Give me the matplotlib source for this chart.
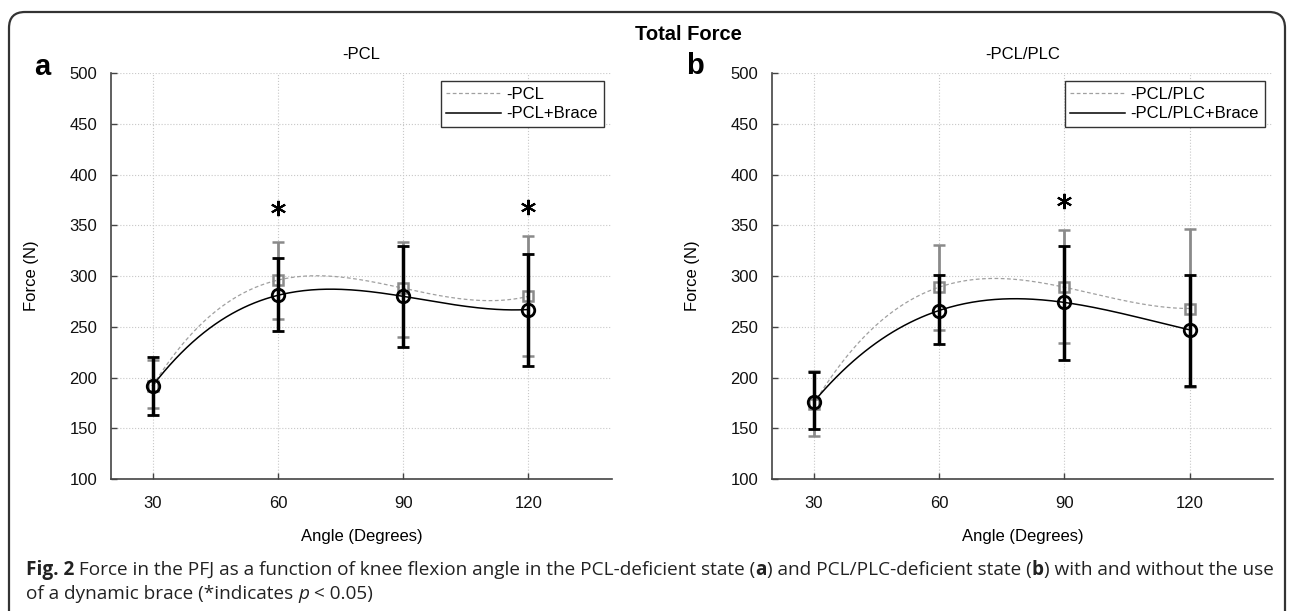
import numpy as np
import matplotlib
matplotlib.use("Agg")
import matplotlib.pyplot as plt
from matplotlib import font_manager
from matplotlib.patches import FancyBboxPatch
from matplotlib.transforms import IdentityTransform

# data (N)
ANGLES = [30, 60, 90, 120]

pcl_mean = [192, 296, 288, 280]
pcl_hi = [217, 334, 334, 339]
pcl_lo = [170, 258, 240, 221]
pclb_mean = [192, 281, 280, 267]
pclb_hi = [220, 318, 330, 322]
pclb_lo = [163, 246, 230, 211]

plc_mean = [174, 289, 289, 268]
plc_hi = [206, 331, 345, 346]
plc_lo = [142, 247, 234, 191]
plcb_mean = [176, 266, 274, 247]
plcb_hi = [205, 301, 330, 301]
plcb_lo = [149, 233, 217, 192]

STAR_A_X, STAR_A_Y = [60, 120], [367, 368]
STAR_B_X, STAR_B_Y = [90], [374]

installed = {f.name for f in font_manager.fontManager.ttflist}
SANS = "Liberation Sans" if "Liberation Sans" in installed else "DejaVu Sans"
CAP = "Open Sans" if "Open Sans" in installed else SANS
plt.rcParams["font.family"] = [SANS, "DejaVu Sans"]

GRAY = "#8a8a8a"
DASH = "#a0a0a0"
W, H = 1292, 611

fig = plt.figure(figsize=(12.92, 6.11), dpi=100)
ax_a = fig.add_axes([0.0859, 0.2160, 0.3877, 0.6645])
ax_b = fig.add_axes([0.5975, 0.2160, 0.3878, 0.6645])


def smooth(x, y):
    c = np.polyfit(x, y, 3)
    xs = np.linspace(min(x), max(x), 200)
    return xs, np.polyval(c, xs)


def panel(ax, sub, m1, h1, l1, m2, h2, l2, labels, sx, sy):
    x = np.array(ANGLES, float)
    xs, ys = smooth(x, m1)
    ax.plot(xs, ys, ls=(0, (3, 2)), color=DASH, lw=0.9, label=labels[0])
    xs, ys = smooth(x, m2)
    ax.plot(xs, ys, "-", color="black", lw=1.1, label=labels[1])
    ax.errorbar(x, m1, yerr=[np.subtract(m1, l1), np.subtract(h1, m1)], fmt="s",
                mfc="none", mec=GRAY, ms=7, mew=1.8, ecolor=GRAY, elinewidth=2,
                capsize=4, capthick=2, zorder=3)
    ax.errorbar(x, m2, yerr=[np.subtract(m2, l2), np.subtract(h2, m2)], fmt="o",
                mfc="none", mec="black", ms=9, mew=2, ecolor="black", elinewidth=2.5,
                capsize=4, capthick=2.5, zorder=4)
    ax.plot(sx, sy, ls="none", marker=(6, 2, 0), ms=11, mew=1.5, color="black")
    ax.set_xlim(20, 140)
    ax.set_ylim(100, 500)
    ax.set_xticks(ANGLES)
    ax.set_yticks(range(100, 501, 50))
    ax.tick_params(direction="in", length=4, width=1, labelsize=12, pad=10,
                   colors="#444", labelcolor="#111")
    ax.tick_params(axis="x", pad=12)
    for s in ["top", "right"]:
        ax.spines[s].set_visible(False)
    for s in ["left", "bottom"]:
        ax.spines[s].set_color("#444")
        ax.spines[s].set_linewidth(1.2)
    ax.grid(True, ls=":", color="#c8c8c8", lw=0.8)
    ax.set_axisbelow(True)
    ax.set_xlabel("Angle (Degrees)", fontsize=12, labelpad=13)
    ax.set_ylabel("Force (N)", fontsize=12, labelpad=22)
    ax.set_title(sub, fontsize=12, pad=10)
    leg = ax.legend(loc="upper right", fontsize=12, handlelength=3.3, handletextpad=0.3,
                    borderpad=0.35, labelspacing=0.25, fancybox=False, framealpha=1,
                    edgecolor="#333", borderaxespad=0.5)
    leg.get_frame().set_linewidth(1.0)


panel(ax_a, "-PCL", pcl_mean, pcl_hi, pcl_lo, pclb_mean, pclb_hi, pclb_lo,
      ["-PCL", "-PCL+Brace"], STAR_A_X, STAR_A_Y)
panel(ax_b, "-PCL/PLC", plc_mean, plc_hi, plc_lo, plcb_mean, plcb_hi, plcb_lo,
      ["-PCL/PLC", "-PCL/PLC+Brace"], STAR_B_X, STAR_B_Y)

fig.text(688 / W, 1 - 35 / H, "Total Force", ha="center", va="center", fontsize=14.5,
         fontweight="bold")
fig.text(42 / W, 1 - 67 / H, "a", ha="center", va="center", fontsize=21, fontweight="bold")
fig.text(695 / W, 1 - 66 / H, "b", ha="center", va="center", fontsize=21, fontweight="bold")

# rounded frame around the figure
frame = FancyBboxPatch((9, -40), 1276, 40 + H - 12, boxstyle="round,pad=0,rounding_size=16",
                       transform=IdentityTransform(), fill=False, ec="#333", lw=1.6)
fig.add_artist(frame)

# caption: runs of (text, weight, style), laid out left to right
line1 = [("Fig. 2", "bold", "normal"),
         (" Force in the PFJ as a function of knee flexion angle in the PCL-deficient state (",
          "normal", "normal"),
         ("a", "bold", "normal"),
         (") and PCL/PLC-deficient state (", "normal", "normal"),
         ("b", "bold", "normal"),
         (") with and without the use", "normal", "normal")]
line2 = [("of a dynamic brace (*indicates ", "normal", "normal"),
         ("p", "normal", "italic"),
         (" < 0.05)", "normal", "normal")]

r = fig.canvas.get_renderer()


def caption(runs, x0, y, fs):
    x = x0
    arts = []
    for s, wgt, sty in runs:
        t = fig.text(x / W, 1 - y / H, s, ha="left", va="baseline", fontsize=fs,
                     family=CAP, fontweight=wgt, style=sty, color="#222")
        x += t.get_window_extent(r).width
        arts.append(t)
    return x, arts


end, arts = caption(line1, 26, 575, 13)
fs = 13 * (1270 - 26) / (end - 26)
for a in arts:
    a.remove()
caption(line1, 26, 575, fs)
caption(line2, 26, 599, fs)

fig.savefig("out.png", dpi=100)
